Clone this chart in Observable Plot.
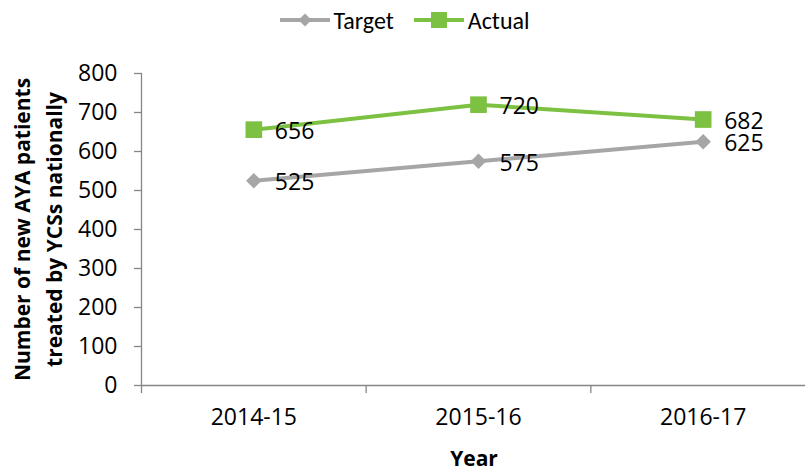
<!DOCTYPE html>
<html>
<head>
<meta charset="utf-8">
<script src="https://cdn.jsdelivr.net/npm/d3@7"></script>
<script src="https://cdn.jsdelivr.net/npm/@observablehq/plot@0.6"></script>
<style>
  html, body { margin: 0; padding: 0; background: #fff; }
  body { width: 805px; height: 471px; overflow: hidden; font-family: "Carlito", "Open Sans", sans-serif; }
  #legend { height: 40px; display: flex; align-items: center; justify-content: center; padding-left: 4px; font-size: 24px; color: #000; }
  .item { display: flex; align-items: center; margin: 0 10px; }
  .item svg { margin-right: 4px; }
</style>
</head>
<body>
<div id="legend"></div>
<div id="chart"></div>
<script>
const years = ["2014-15", "2015-16", "2016-17"];
const target = [525, 575, 625];
const actual = [656, 720, 682];
const seriesNames = ["Target", "Actual"];
const colors = {Target: "#a6a6a6", Actual: "#7dc142"};
const yTicks = [0, 100, 200, 300, 400, 500, 600, 700, 800];
const yTitle = "Number of new AYA patients\ntreated by YCSs nationally";
const xTitle = "Year";

const data = [
  ...years.map((yr, i) => ({series: "Target", year: yr, idx: i + 0.5, value: target[i]})),
  ...years.map((yr, i) => ({series: "Actual", year: yr, idx: i + 0.5, value: actual[i]}))
];
const tData = data.filter(d => d.series === "Target");
const aData = data.filter(d => d.series === "Actual");

// Legend
const legend = document.getElementById("legend");
for (const name of seriesNames) {
  const c = colors[name];
  const marker = name === "Target"
    ? `<path d="M25,13.5 L31.5,20 L25,26.5 L18.5,20 Z" fill="${c}"/>`
    : `<rect x="17" y="12" width="16" height="16" fill="${c}"/>`;
  const el = document.createElement("div");
  el.className = "item";
  el.innerHTML = `<svg width="50" height="40"><line x1="0" x2="50" y1="20" y2="20" stroke="${c}" stroke-width="4"/>${marker}</svg><span>${name}</span>`;
  legend.appendChild(el);
}

const font = "Open Sans";
const axisColor = "#868686";

const chart = Plot.plot({
  width: 805,
  height: 431,
  marginTop: 33,
  marginBottom: 86,
  marginLeft: 142,
  marginRight: 0,
  style: {fontFamily: font, fontSize: "23px", color: "#000", background: "#fff"},
  x: {type: "linear", domain: [0, 3], range: [141, 815]},
  y: {domain: [0, 800]},
  marks: [
    Plot.ruleX([0], {stroke: axisColor, strokeWidth: 1.3}),
    Plot.ruleY([0], {stroke: axisColor, strokeWidth: 1.3}),
    Plot.axisY({ticks: yTicks, tickSize: 8, tickPadding: 17, label: null, stroke: axisColor, fill: "#000", strokeWidth: 1.3}),
    Plot.axisX({ticks: [0, 1, 2, 3], tickSize: 8, tickFormat: () => "", label: null, stroke: axisColor, strokeWidth: 1.3}),
    Plot.axisX({ticks: years.map((_, i) => i + 0.5), tickSize: 0, tickPadding: 23, tickFormat: v => years[Math.round(v - 0.5)], label: null, fill: "#000"}),
    Plot.line(tData, {x: "idx", y: "value", stroke: colors.Target, strokeWidth: 4}),
    Plot.line(aData, {x: "idx", y: "value", stroke: colors.Actual, strokeWidth: 4}),
    Plot.dot(tData, {x: "idx", y: "value", symbol: "diamond2", r: 7, fill: colors.Target, stroke: null}),
    Plot.dot(aData, {x: "idx", y: "value", symbol: "square", r: 9.4, fill: colors.Actual, stroke: null}),
    Plot.text(data, {x: "idx", y: "value", text: d => String(d.value), textAnchor: "start", dx: 21, dy: 2, fontSize: 23, fill: "#000"}),
    Plot.text([yTitle], {frameAnchor: "left", dx: -107, rotate: -90, text: d => d, textAnchor: "middle", lineAnchor: "middle", lineHeight: 1.55, fontWeight: "bold", fontSize: 21, fill: "#000"}),
    Plot.text([xTitle], {frameAnchor: "bottom", dy: 80, text: d => d, textAnchor: "middle", fontWeight: "bold", fontSize: 21, fill: "#000"})
  ]
});
document.getElementById("chart").appendChild(chart);
</script>
</body>
</html>
